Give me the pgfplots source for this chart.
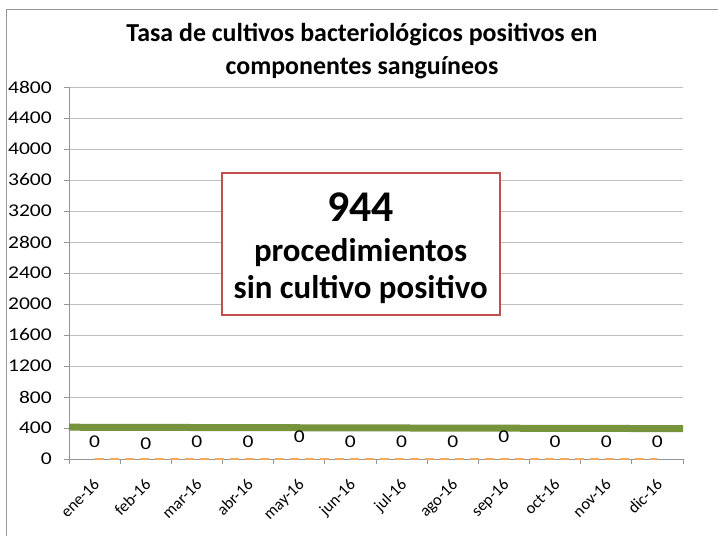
\documentclass[border=0pt]{standalone}
\usepackage{fontspec}
\setmainfont{Carlito}
\newfontfamily\widefont{Carlito}[FakeStretch=1.2]
\usepackage{pgfplots}
\pgfplotsset{compat=1.18}
\usepackage{pgfplotstable}
\definecolor{grn}{RGB}{119,147,60}
\definecolor{org}{RGB}{245,170,90}
\definecolor{boxred}{RGB}{190,80,80}
\definecolor{gridc}{RGB}{190,190,190}
\definecolor{axc}{RGB}{150,150,150}
\pgfplotstableread{
x y off
0 0 0
1 0 -2
2 0 0
3 0 0
4 0 5
5 0 0
6 0 0
7 0 0
8 0 5
9 0 0
10 0 0
11 0 0
}\orangedata
\pgfplotstableread{
x y
-0.5 410
11.5 392
}\greendata
\begin{document}
\begin{tikzpicture}
\path[use as bounding box] (0,0) rectangle (718bp,536bp);
\fill[white] (0,0) rectangle (718bp,536bp);
\draw[axc, line width=0.9bp] (6bp,-2bp) -- (6bp,527bp) -- (720bp,527bp);
\node[font=\fontsize{26}{30}\selectfont\bfseries, anchor=base] at (362bp,494bp) {Tasa de cultivos bacteriológicos positivos en};
\node[font=\fontsize{26}{30}\selectfont\bfseries, anchor=base] at (362bp,461bp) {componentes sanguíneos};
\begin{axis}[
  at={(69bp,77bp)}, anchor=south west, scale only axis,
  width=614bp, height=372bp,
  xmin=-0.5, xmax=11.5, ymin=0, ymax=4800,
  ytick={0,400,...,4800},
  xtick={-0.5,0.5,...,11.5},
  x tick label as interval,
  xticklabels={ene-16,feb-16,mar-16,abr-16,may-16,jun-16,jul-16,ago-16,sep-16,oct-16,nov-16,dic-16},
  xtick pos=bottom, ytick pos=left,
  tick align=outside, major tick length=5bp,
  tick style={axc, line width=0.8bp},
  axis x line*=bottom, axis y line*=left,
  axis line style={axc, line width=0.8bp},
  ymajorgrids, grid style={gridc, line width=0.8bp},
  /pgf/number format/assume math mode=true,
  /pgf/number format/1000 sep={},
  yticklabel style={font=\widefont\fontsize{18}{20}\selectfont, anchor=east, inner sep=0pt, xshift=-12bp},
  xticklabel style={font=\fontsize{16.5}{20}\selectfont, rotate=45, anchor=north east, inner sep=0pt, yshift=-8bp, xshift=-11bp},
  clip=false,
]
\addplot[grn, line width=7bp] table[x=x,y=y] {\greendata};
\addplot[org, line width=2.6bp, dash pattern=on 9bp off 6bp,
  visualization depends on={\thisrow{off} \as \myoff},
  nodes near coords={0},
  nodes near coords style={font=\widefont\fontsize{18}{20}\selectfont, anchor=center, yshift={17bp+\myoff*1bp}, text=black}]
  table[x=x,y=y] {\orangedata};
\node[draw=boxred, line width=2bp, fill=white, minimum width=278bp, minimum height=142bp, inner sep=0pt] at (axis cs:5.20,2774) {};
\node[font=\fontsize{44}{48}\selectfont\bfseries, anchor=base] at (axis cs:5.20,3062) {944};
\node[font=\fontsize{33}{36}\selectfont\bfseries, anchor=base] at (axis cs:5.20,2546) {procedimientos};
\node[font=\fontsize{33}{36}\selectfont\bfseries, anchor=base] at (axis cs:5.20,2073) {sin cultivo positivo};
\end{axis}
\end{tikzpicture}
\end{document}
